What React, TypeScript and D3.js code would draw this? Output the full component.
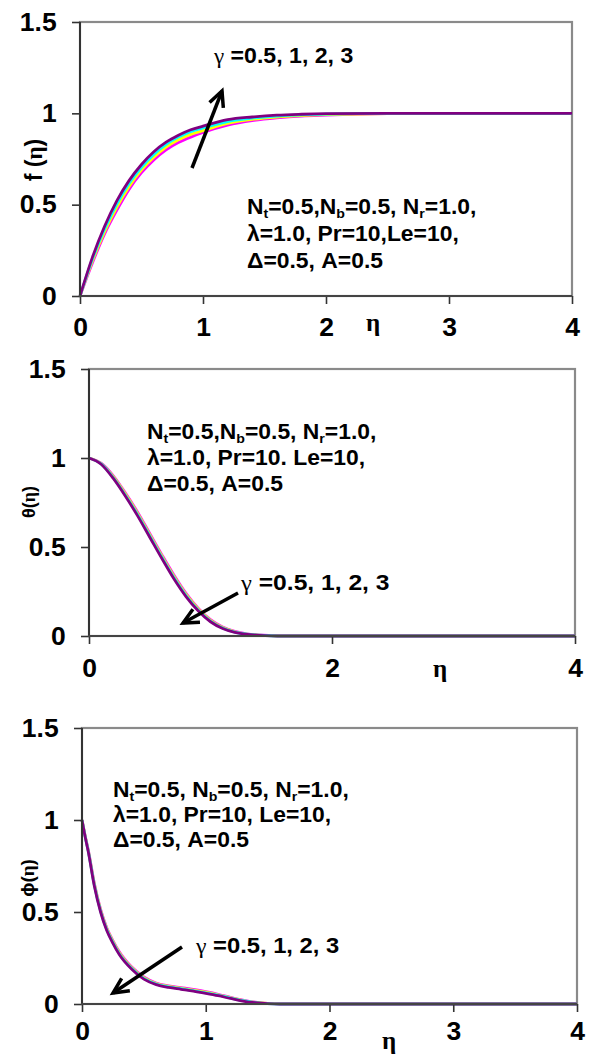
import { useEffect, useRef } from 'react';
import * as d3 from 'd3';

const W = 589, H = 1060;
const SANS = '"Liberation Sans", Arial, sans-serif';
const SERIF = '"Liberation Serif", "Times New Roman", serif';

// gamma = 0.5, 1, 2, 3
const curveColors = ['#ff00ff', '#ffff00', '#00ffff', '#800080'];

// f(eta)
const etaF = [0, 0.1, 0.2, 0.3, 0.4, 0.5, 0.6, 0.7, 0.8, 0.9, 1.0, 1.2, 1.4, 1.6, 1.8, 2.0, 2.5, 3.0, 3.5, 4.0];
const fG05 = [0, 0.18, 0.34, 0.47, 0.585, 0.675, 0.745, 0.80, 0.84, 0.87, 0.895, 0.935, 0.96, 0.975, 0.985, 0.99, 0.998, 1, 1, 1];
const fG1 = [0, 0.19, 0.352, 0.487, 0.6, 0.69, 0.76, 0.815, 0.855, 0.885, 0.905, 0.945, 0.967, 0.98, 0.988, 0.993, 0.999, 1, 1, 1];
const fG2 = [0, 0.20, 0.367, 0.505, 0.618, 0.705, 0.775, 0.83, 0.87, 0.90, 0.92, 0.955, 0.974, 0.985, 0.992, 0.996, 1, 1, 1, 1];
const fG3 = [0, 0.21, 0.382, 0.522, 0.633, 0.72, 0.79, 0.842, 0.88, 0.91, 0.93, 0.965, 0.98, 0.99, 0.995, 0.998, 1, 1, 1, 1];

// theta(eta)
const etaT = [0, 0.1, 0.2, 0.3, 0.4, 0.5, 0.6, 0.7, 0.8, 0.9, 1.0, 1.1, 1.2, 1.3, 1.4, 1.5, 1.6, 2, 3, 4];
const thG05 = [1, 0.971, 0.9, 0.803, 0.696, 0.576, 0.456, 0.341, 0.238, 0.155, 0.092, 0.051, 0.026, 0.012, 0.0055, 0.0025, 0.0005, 0, 0, 0];
const thG1 = [1, 0.969, 0.895, 0.797, 0.689, 0.569, 0.449, 0.334, 0.232, 0.15, 0.088, 0.048, 0.024, 0.011, 0.005, 0.002, 0, 0, 0, 0];
const thG2 = [1, 0.967, 0.89, 0.791, 0.682, 0.562, 0.442, 0.327, 0.226, 0.145, 0.084, 0.045, 0.022, 0.01, 0.0045, 0.0015, 0, 0, 0, 0];
const thG3 = [1, 0.965, 0.885, 0.785, 0.675, 0.555, 0.435, 0.32, 0.22, 0.14, 0.08, 0.042, 0.02, 0.009, 0.004, 0.001, 0, 0, 0, 0];

// phi(eta)
const etaP = [0, 0.025, 0.05, 0.1, 0.15, 0.2, 0.25, 0.3, 0.4, 0.5, 0.6, 0.7, 0.8, 0.9, 1.0, 1.1, 1.2, 1.3, 1.4, 1.5, 1.6, 2, 3, 4];
const phG05 = [1, 0.916, 0.839, 0.655, 0.515, 0.415, 0.345, 0.285, 0.202, 0.147, 0.114, 0.099, 0.089, 0.079, 0.067, 0.053, 0.036, 0.021, 0.01, 0.0035, 0.001, 0, 0, 0];
const phG1 = [1, 0.914, 0.836, 0.65, 0.51, 0.41, 0.34, 0.28, 0.198, 0.143, 0.111, 0.096, 0.086, 0.076, 0.064, 0.05, 0.034, 0.019, 0.009, 0.003, 0.0005, 0, 0, 0];
const phG2 = [1, 0.912, 0.833, 0.645, 0.505, 0.405, 0.335, 0.275, 0.194, 0.139, 0.108, 0.093, 0.083, 0.073, 0.061, 0.048, 0.032, 0.018, 0.008, 0.0025, 0, 0, 0, 0];
const phG3 = [1, 0.91, 0.83, 0.64, 0.50, 0.40, 0.33, 0.27, 0.19, 0.135, 0.105, 0.09, 0.08, 0.07, 0.058, 0.045, 0.03, 0.016, 0.007, 0.002, 0, 0, 0, 0];

const yTicks = [0, 0.5, 1, 1.5];
const xTicksFull = [0, 1, 2, 3, 4];
const xTicksHalf = [0, 2, 4];

type Part = { t: string; sub?: boolean; serif?: boolean; light?: boolean };

const gammaLabel: Part[] = [{ t: 'γ', serif: true, light: true }, { t: ' =0.5, 1, 2, 3' }];

const paramLines = (sep1: string, sep2: string): Part[][] => [
  [{ t: 'N' }, { t: 't', sub: true }, { t: '=0.5,' + sep1 + 'N' }, { t: 'b', sub: true }, { t: '=0.5, N' }, { t: 'r', sub: true }, { t: '=1.0,' }],
  [{ t: 'λ=1.0, Pr=10' + sep2 + 'Le=10,' }],
  [{ t: 'Δ=0.5, A=0.5' }],
];

const panels = [
  {
    left: 80, right: 572, top: 22, bottom: 296,
    eta: etaF, series: [fG05, fG1, fG2, fG3], xTicks: xTicksFull, xPad: 14,
    yTitle: [{ t: 'f (' }, { t: 'η', serif: true }, { t: ')' }] as Part[], yTitleX: 42, yTitleY: 160, yTitleSize: 23,
    etaX: 373, etaY: 331,
    gamma: { x: 214, y: 63, sx: 1.05 },
    arrow: { x1: 192, y1: 168, x2: 222, y2: 91 },
    text: { x: 247, y: 214, dy: 27, lines: paramLines('', ',') },
  },
  {
    left: 89, right: 575, top: 369, bottom: 636,
    eta: etaT, series: [thG05, thG1, thG2, thG3], xTicks: xTicksHalf, xPad: 15,
    yTitle: [{ t: 'θ(' }, { t: 'η', serif: true }, { t: ')' }] as Part[], yTitleX: 35, yTitleY: 502, yTitleSize: 18,
    etaX: 440, etaY: 677,
    gamma: { x: 241, y: 590, sx: 1.12 },
    arrow: { x1: 238, y1: 593, x2: 183, y2: 623 },
    text: { x: 147, y: 439, dy: 26, lines: paramLines('', '. ') },
  },
  {
    left: 82, right: 577, top: 728, bottom: 1004,
    eta: etaP, series: [phG05, phG1, phG2, phG3], xTicks: xTicksFull, xPad: 10,
    yTitle: [{ t: 'ϕ(' }, { t: 'η', serif: true }, { t: ')' }] as Part[], yTitleX: 34, yTitleY: 878, yTitleSize: 19,
    etaX: 389, etaY: 1049,
    gamma: { x: 196, y: 953, sx: 1.08 },
    arrow: { x1: 182, y1: 947, x2: 113, y2: 993 },
    text: { x: 113, y: 797, dy: 25, lines: paramLines(' ', ', ') },
  },
];

function addRich(g: any, parts: Part[], size: number, weight = 'bold') {
  const text = g.append('text')
    .attr('font-family', SANS)
    .attr('font-size', size)
    .attr('font-weight', weight)
    .attr('fill', '#000');
  let down = false;
  parts.forEach(p => {
    const ts = text.append('tspan').text(p.t);
    if (p.serif) ts.attr('font-family', SERIF);
    if (p.light) ts.attr('font-weight', 'normal');
    if (p.sub) {
      ts.attr('font-size', size * 0.62).attr('dy', size * 0.18);
      down = true;
    } else if (down) {
      ts.attr('dy', -size * 0.18);
      down = false;
    }
  });
  return text;
}

const App = () => {
  const svgRef = useRef<SVGSVGElement>(null);

  useEffect(() => {
    if (!svgRef.current) return;
    const svg = d3.select(svgRef.current);
    svg.selectAll('*').remove();

    svg.append('rect').attr('width', W).attr('height', H).attr('fill', '#fff');

    panels.forEach(p => {
      const x = d3.scaleLinear().domain([0, 4]).range([p.left, p.right]);
      const y = d3.scaleLinear().domain([0, 1.5]).range([p.bottom, p.top]);
      const g = svg.append('g');

      // plot frame
      g.append('rect')
        .attr('x', p.left).attr('y', p.top)
        .attr('width', p.right - p.left).attr('height', p.bottom - p.top)
        .attr('fill', 'none').attr('stroke', '#8a8a8a').attr('stroke-width', 2.2);

      // curves
      const line = d3.line<number>()
        .x((_, i) => x(p.eta[i]))
        .y(d => y(d))
        .curve(d3.curveMonotoneX);
      p.series.forEach((s, i) => {
        g.append('path')
          .attr('d', line(s))
          .attr('fill', 'none')
          .attr('stroke', curveColors[i])
          .attr('stroke-width', 2.8);
      });

      // axes
      const yAxis = g.append('g').attr('transform', `translate(${p.left},0)`)
        .call(d3.axisLeft(y).tickValues(yTicks).tickSize(8).tickSizeOuter(0).tickPadding(14).tickFormat(d3.format('')));
      const xAxis = g.append('g').attr('transform', `translate(0,${p.bottom})`)
        .call(d3.axisBottom(x).tickValues(p.xTicks).tickSize(8).tickSizeOuter(0).tickPadding(p.xPad).tickFormat(d3.format('')));
      [yAxis, xAxis].forEach(a => {
        a.select('.domain').remove();
        a.selectAll('line').attr('stroke', '#333').attr('stroke-width', 1.6);
        a.selectAll('text')
          .attr('font-family', SANS).attr('font-size', 25).attr('font-weight', 'bold').attr('fill', '#000')
          .attr('transform', 'scale(1.06,1)');
      });

      g.append('line').attr('x1', p.left).attr('x2', p.left).attr('y1', p.top).attr('y2', p.bottom + 1)
        .attr('stroke', '#333').attr('stroke-width', 2);
      g.append('line').attr('x1', p.left - 1).attr('x2', p.right).attr('y1', p.bottom).attr('y2', p.bottom)
        .attr('stroke', '#444').attr('stroke-width', 2);

      // axis titles
      addRich(g.append('g').attr('transform', `translate(${p.yTitleX},${p.yTitleY}) rotate(-90)`), p.yTitle, p.yTitleSize)
        .attr('text-anchor', 'middle');
      g.append('text')
        .attr('x', p.etaX).attr('y', p.etaY)
        .attr('text-anchor', 'middle')
        .attr('font-family', SERIF).attr('font-size', 25).attr('font-weight', 'bold')
        .text('η');

      // gamma label and arrow
      addRich(g.append('g').attr('transform', `translate(${p.gamma.x},${p.gamma.y}) scale(${p.gamma.sx},1)`), gammaLabel, 22);
      const a = p.arrow;
      const ang = Math.atan2(a.y2 - a.y1, a.x2 - a.x1);
      const hl = 17, spread = 0.45;
      const w1 = [a.x2 - hl * Math.cos(ang - spread), a.y2 - hl * Math.sin(ang - spread)];
      const w2 = [a.x2 - hl * Math.cos(ang + spread), a.y2 - hl * Math.sin(ang + spread)];
      g.append('line').attr('x1', a.x1).attr('y1', a.y1).attr('x2', a.x2).attr('y2', a.y2)
        .attr('stroke', '#000').attr('stroke-width', 3.5);
      g.append('path')
        .attr('d', `M${w1[0]},${w1[1]}L${a.x2},${a.y2}L${w2[0]},${w2[1]}`)
        .attr('fill', 'none').attr('stroke', '#000').attr('stroke-width', 3.5)
        .attr('stroke-linejoin', 'miter');

      // parameter block
      p.text.lines.forEach((ln, i) => {
        addRich(g.append('g').attr('transform', `translate(${p.text.x},${p.text.y + i * p.text.dy}) scale(1.04,1)`), ln, 22);
      });
    });
  }, []);

  return (
    <svg ref={svgRef} width={W} height={H}
      style={{ position: 'absolute', left: 0, top: 0, display: 'block' }} />
  );
};

export default App;
